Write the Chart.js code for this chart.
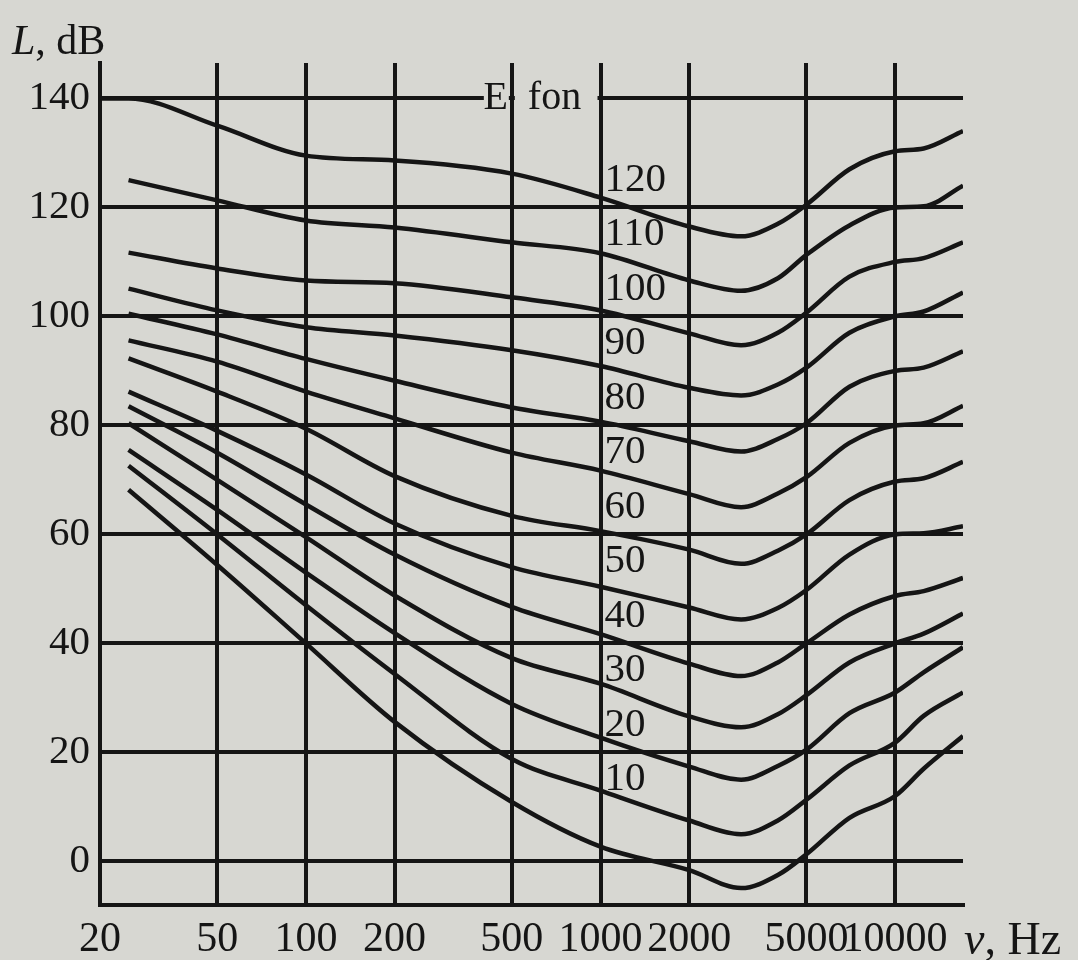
<!DOCTYPE html>
<html>
<head>
<meta charset="utf-8">
<script src="https://cdn.jsdelivr.net/npm/chart.js@4.4.0/dist/chart.umd.min.js"></script>
<style>
  body { margin: 0; background: #d7d7d2; }
  canvas { display: block; }
</style>
</head>
<body>
<canvas id="loudness" width="1078" height="960"></canvas>
<script>
const BG = "#d7d7d2";
const INK = "#151515";
const SERIF = "'Liberation Serif', 'DejaVu Serif', serif";

// frequency axis (Hz) and tick values
const freqs = [20, 25, 50, 100, 200, 500, 1000, 2000, 3000, 4000, 5000, 7000, 10000, 12500, 17000];
const xTicks = [20, 50, 100, 200, 500, 1000, 2000, 5000, 10000];
const yTicks = [0, 20, 40, 60, 80, 100, 120, 140];

// loudness level of each contour (fon)
const fonLevels = [120, 110, 100, 90, 80, 70, 60, 50, 40, 30, 20, 10, 0];

// sound level L (dB), one array per contour
const fon120 = [140, 140, 135, 129.5, 128.6, 126.2, 121.8, 116.5, 114.7, 117, 120.5, 127, 130.3, 130.8, 134];
const fon110 = [null, 125, 121.3, 117.6, 116.3, 113.6, 111.6, 106.6, 104.7, 107, 111.3, 116.7, 120, 120.2, 124];
const fon100 = [null, 111.7, 108.8, 106.6, 106.1, 103.5, 101.1, 96.9, 94.7, 97, 100.7, 107.3, 110, 110.7, 113.6];
const fon90  = [null, 105.1, 101.1, 98, 96.5, 93.8, 90.9, 86.9, 85.5, 87.5, 90.6, 97, 100, 100.9, 104.4];
const fon80  = [null, 100.5, 96.7, 92.2, 88.2, 83.3, 80.7, 77.1, 75.2, 77.5, 80.4, 87.1, 90, 90.6, 93.6];
const fon70  = [null, 95.6, 91.7, 86.2, 81.3, 75, 71.7, 67.4, 65, 67.5, 70.5, 76.8, 80, 80.4, 83.6];
const fon60  = [null, 92.3, 86.2, 79.4, 70.7, 63.4, 60.6, 57.2, 54.6, 57, 60, 66.3, 69.7, 70.3, 73.3];
const fon50  = [null, 86.2, 79, 71, 62, 54, 50.4, 46.6, 44.4, 46.5, 49.8, 56.3, 60, 60.2, 61.5];
const fon40  = [null, 83.5, 75, 65.5, 56.3, 46.7, 41.7, 36.3, 34, 36.5, 40, 45.3, 48.7, 49.6, 52];
const fon30  = [null, 80.4, 70, 59.5, 48.8, 37.3, 32.6, 26.6, 24.6, 27, 30.5, 36.5, 40, 41.8, 45.5];
const fon20  = [null, 75.5, 64.5, 53, 41.9, 28.9, 22.7, 17.4, 15, 17.5, 20.5, 27.2, 31, 34.7, 39.3];
const fon10  = [null, 72.6, 60, 47, 34.4, 18.8, 13, 7.5, 5, 7.5, 11.3, 17.6, 21.8, 26.7, 31];
const fon0   = [null, 68.2, 54.4, 40, 25.6, 10.9, 2.7, -1.6, -4.9, -2.5, 1.3, 8, 12, 17, 23];

const contours = [fon120, fon110, fon100, fon90, fon80, fon70, fon60, fon50, fon40, fon30, fon20, fon10, fon0];

const datasets = contours.map((vals, i) => ({
  label: fonLevels[i] + " fon",
  data: freqs.map((f, j) => ({ x: f, y: vals[j] })).filter(p => p.y !== null),
  borderColor: INK,
  borderWidth: 4.5,
  pointRadius: 0,
  cubicInterpolationMode: "monotone",
  fill: false,
}));

// labels, axis names and the "E fon" caption
const textPlugin = {
  id: "figureText",
  beforeDatasetsDraw(chart) {
    const { ctx, scales: { x, y } } = chart;
    const yy = y.getPixelForValue(140);
    const x500 = x.getPixelForValue(500);
    const x1000 = x.getPixelForValue(1000);
    ctx.save();
    ctx.fillStyle = BG;
    // gap in the 140 dB line behind "E fon"
    ctx.fillRect(x500 - 28, yy - 6, 25, 12);
    ctx.fillRect(x500 + 3, yy - 6, x1000 - x500 - 6, 12);
    ctx.restore();
  },
  afterDraw(chart) {
    const { ctx, scales: { x, y } } = chart;
    ctx.save();
    ctx.fillStyle = INK;
    ctx.textBaseline = "middle";
    ctx.textAlign = "left";

    // contour levels just right of the 1000 Hz line
    ctx.font = "41px " + SERIF;
    const lx = x.getPixelForValue(1000) + 4;
    fonLevels.forEach(level => {
      if (level === 0) return;
      ctx.fillText(String(level), lx, y.getPixelForValue(level + 5));
    });

    // "E fon"
    const yy = y.getPixelForValue(140);
    const x500 = x.getPixelForValue(500);
    ctx.font = "40px " + SERIF;
    ctx.textAlign = "right";
    ctx.fillText("E", x500 - 4, yy);
    ctx.textAlign = "left";
    ctx.fillText("fon", x500 + 16, yy);

    // y axis name
    ctx.textBaseline = "alphabetic";
    ctx.font = "italic 42px " + SERIF;
    ctx.fillText("L", 12, 54);
    let w = ctx.measureText("L").width;
    ctx.font = "42px " + SERIF;
    ctx.fillText(", dB", 12 + w, 54);

    // x axis name
    ctx.font = "italic 46px " + SERIF;
    ctx.fillText("ν", 964, 954);
    w = ctx.measureText("ν").width;
    ctx.font = "46px " + SERIF;
    ctx.fillText(", Hz", 964 + w, 954);
    ctx.restore();
  }
};

new Chart(document.getElementById("loudness"), {
  type: "line",
  data: { datasets },
  options: {
    responsive: false,
    animation: false,
    layout: { autoPadding: false, padding: { top: 63, right: 115, left: 0, bottom: 0 } },
    plugins: { legend: { display: false }, tooltip: { enabled: false } },
    scales: {
      x: {
        type: "logarithmic",
        min: 20,
        max: 17000,
        afterBuildTicks: s => { s.ticks = xTicks.map(v => ({ value: v })); },
        afterFit: s => { s.height = 55; },
        grid: { color: INK, lineWidth: 4, drawTicks: false },
        border: { display: true, color: INK, width: 4 },
        ticks: {
          color: INK,
          padding: 10,
          maxRotation: 0,
          autoSkip: false,
          font: { family: SERIF, size: 42 },
          callback: v => String(v),
        },
      },
      y: {
        type: "linear",
        min: -8,
        max: 146.5,
        afterBuildTicks: s => { s.ticks = yTicks.map(v => ({ value: v })); },
        afterFit: s => { s.width = 100; },
        grid: { color: INK, lineWidth: 4, drawTicks: false },
        border: { display: true, color: INK, width: 4 },
        ticks: {
          color: INK,
          padding: 10,
          font: { family: SERIF, size: 41 },
          callback: v => String(v),
        },
      },
    },
  },
  plugins: [textPlugin],
});
</script>
</body>
</html>
